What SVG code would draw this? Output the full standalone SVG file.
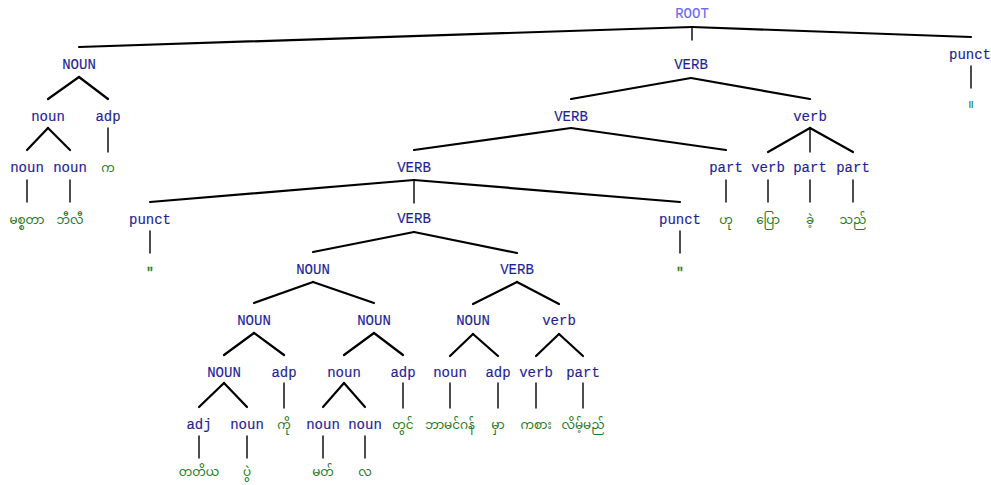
<svg xmlns="http://www.w3.org/2000/svg" width="991" height="485" viewBox="0 0 991 485">
<style>
.lb{font-family:"Liberation Mono","DejaVu Sans Mono",monospace;font-size:14px;fill:#1f1f96;stroke:#1f1f96;stroke-width:0.15;text-anchor:middle}
.rt{fill:#6a6aee;stroke:#6a6aee}
.w{font-family:"Noto Sans Myanmar","Padauk","Myanmar Text","Noto Sans",sans-serif;font-size:12px;fill:#237a23;text-anchor:middle}
.q{font-family:"Liberation Mono",monospace;font-size:13px;fill:#237a23;stroke:#237a23;stroke-width:0.4;text-anchor:middle}
.c line{stroke:#000;stroke-width:2.2;stroke-linecap:round}
.c line.v{stroke-width:1.4}
</style>
<rect width="991" height="485" fill="#fff"/>
<g class="c" id="connectors">
<line x1="692" y1="27" x2="79" y2="47"/>
<line class="v" x1="692" y1="27" x2="692" y2="40"/>
<line x1="692" y1="27" x2="971" y2="37"/>
<line class="v" x1="971" y1="66" x2="971" y2="88"/>
<line x1="79" y1="77" x2="48" y2="99"/>
<line x1="79" y1="77" x2="108" y2="99"/>
<line x1="691" y1="78" x2="571" y2="99"/>
<line x1="691" y1="78" x2="810" y2="99"/>
<line x1="48" y1="128" x2="27" y2="150"/>
<line x1="48" y1="128" x2="70" y2="150"/>
<line class="v" x1="108" y1="128" x2="108" y2="152"/>
<line x1="571" y1="128" x2="414" y2="150"/>
<line x1="571" y1="128" x2="726" y2="150"/>
<line x1="810" y1="128" x2="768" y2="152"/>
<line class="v" x1="810" y1="128" x2="810" y2="152"/>
<line x1="810" y1="128" x2="853" y2="152"/>
<line class="v" x1="27" y1="180" x2="27" y2="202"/>
<line class="v" x1="70" y1="180" x2="70" y2="202"/>
<line x1="414" y1="180" x2="150" y2="202"/>
<line class="v" x1="414" y1="180" x2="414" y2="203"/>
<line x1="414" y1="180" x2="680" y2="202"/>
<line class="v" x1="726" y1="180" x2="726" y2="202"/>
<line class="v" x1="768" y1="180" x2="768" y2="202"/>
<line class="v" x1="810" y1="180" x2="810" y2="202"/>
<line class="v" x1="853" y1="180" x2="853" y2="202"/>
<line class="v" x1="150" y1="231" x2="150" y2="253"/>
<line class="v" x1="680" y1="231" x2="680" y2="253"/>
<line x1="414" y1="232" x2="313" y2="252"/>
<line x1="414" y1="232" x2="517" y2="253"/>
<line x1="313" y1="282" x2="254" y2="303"/>
<line x1="313" y1="282" x2="374" y2="303"/>
<line x1="517" y1="282" x2="473" y2="304"/>
<line x1="517" y1="282" x2="559" y2="304"/>
<line x1="254" y1="333" x2="224" y2="355"/>
<line x1="254" y1="333" x2="284" y2="355"/>
<line x1="374" y1="333" x2="344" y2="355"/>
<line x1="374" y1="333" x2="403" y2="355"/>
<line x1="473" y1="334" x2="450" y2="356"/>
<line x1="473" y1="334" x2="498" y2="356"/>
<line x1="559" y1="334" x2="536" y2="356"/>
<line x1="559" y1="334" x2="583" y2="356"/>
<line x1="224" y1="383" x2="199" y2="407"/>
<line x1="224" y1="383" x2="247" y2="407"/>
<line class="v" x1="284" y1="383" x2="284" y2="408"/>
<line x1="344" y1="383" x2="323" y2="407"/>
<line x1="344" y1="383" x2="365" y2="407"/>
<line class="v" x1="403" y1="383" x2="403" y2="408"/>
<line class="v" x1="450" y1="383" x2="450" y2="408"/>
<line class="v" x1="498" y1="383" x2="498" y2="408"/>
<line class="v" x1="536" y1="383" x2="536" y2="408"/>
<line class="v" x1="583" y1="383" x2="583" y2="408"/>
<line class="v" x1="199" y1="436" x2="199" y2="458"/>
<line class="v" x1="247" y1="436" x2="247" y2="458"/>
<line class="v" x1="323" y1="436" x2="323" y2="458"/>
<line class="v" x1="365" y1="436" x2="365" y2="458"/>
</g>
<g id="root"><text class="lb rt" x="692" y="18">ROOT</text></g>
<g id="n-noun1"><text class="lb" x="79" y="69">NOUN</text></g>
<g id="n-verb1"><text class="lb" x="691" y="69">VERB</text></g>
<g id="n-punct1"><text class="lb" x="970" y="59">punct</text></g>
<g id="w-end"><text class="w" x="971" y="108">။</text></g>
<g id="n-noun2"><text class="lb" x="48" y="121">noun</text></g>
<g id="n-adp2"><text class="lb" x="108" y="121">adp</text></g>
<g id="n-verb2"><text class="lb" x="571" y="121">VERB</text></g>
<g id="n-verb2b"><text class="lb" x="810" y="121">verb</text></g>
<g id="n-noun3a"><text class="lb" x="27" y="172">noun</text></g>
<g id="n-noun3b"><text class="lb" x="70" y="172">noun</text></g>
<g id="w-ka"><text class="w" x="108" y="172">က</text></g>
<g id="n-verb3"><text class="lb" x="414" y="172">VERB</text></g>
<g id="n-part3"><text class="lb" x="726" y="172">part</text></g>
<g id="n-verb3b"><text class="lb" x="768" y="172">verb</text></g>
<g id="n-part3b"><text class="lb" x="810" y="172">part</text></g>
<g id="n-part3c"><text class="lb" x="853" y="172">part</text></g>
<g id="w-mister"><text class="w" x="27" y="224">မစ္စတာ</text></g>
<g id="w-billy"><text class="w" x="70" y="224">ဘီလီ</text></g>
<g id="n-punct4a"><text class="lb" x="150" y="224">punct</text></g>
<g id="n-verb4"><text class="lb" x="414" y="223">VERB</text></g>
<g id="n-punct4b"><text class="lb" x="680" y="224">punct</text></g>
<g id="w-hu"><text class="w" x="726" y="224">ဟု</text></g>
<g id="w-pyaw"><text class="w" x="768" y="224">ပြော</text></g>
<g id="w-khe"><text class="w" x="810" y="224">ခဲ့</text></g>
<g id="w-thi"><text class="w" x="853" y="224">သည်</text></g>
<g id="w-q1"><text class="q" x="150" y="276">"</text></g>
<g id="w-q2"><text class="q" x="680" y="276">"</text></g>
<g id="n-noun5"><text class="lb" x="313" y="274">NOUN</text></g>
<g id="n-verb5"><text class="lb" x="517" y="274">VERB</text></g>
<g id="n-noun6a"><text class="lb" x="254" y="325">NOUN</text></g>
<g id="n-noun6b"><text class="lb" x="374" y="325">NOUN</text></g>
<g id="n-noun6c"><text class="lb" x="473" y="325">NOUN</text></g>
<g id="n-verb6"><text class="lb" x="559" y="325">verb</text></g>
<g id="n-noun7a"><text class="lb" x="224" y="377">NOUN</text></g>
<g id="n-adp7a"><text class="lb" x="284" y="377">adp</text></g>
<g id="n-noun7b"><text class="lb" x="344" y="377">noun</text></g>
<g id="n-adp7b"><text class="lb" x="403" y="377">adp</text></g>
<g id="n-noun7c"><text class="lb" x="450" y="377">noun</text></g>
<g id="n-adp7c"><text class="lb" x="498" y="377">adp</text></g>
<g id="n-verb7"><text class="lb" x="536" y="377">verb</text></g>
<g id="n-part7"><text class="lb" x="583" y="377">part</text></g>
<g id="n-adj8"><text class="lb" x="199" y="429">adj</text></g>
<g id="n-noun8a"><text class="lb" x="247" y="429">noun</text></g>
<g id="w-ko"><text class="w" x="284" y="429">ကို</text></g>
<g id="n-noun8b"><text class="lb" x="323" y="429">noun</text></g>
<g id="n-noun8c"><text class="lb" x="365" y="429">noun</text></g>
<g id="w-twin"><text class="w" x="403" y="429">တွင်</text></g>
<g id="w-birm"><text class="w" x="450" y="429">ဘာမင်ဂန်</text></g>
<g id="w-hma"><text class="w" x="498" y="429">မှာ</text></g>
<g id="w-kasa"><text class="w" x="536" y="429">ကစား</text></g>
<g id="w-lein"><text class="w" x="583" y="429">လိမ့်မည်</text></g>
<g id="w-tatiya"><text class="w" x="199" y="476">တတိယ</text></g>
<g id="w-pwe"><text class="w" x="247" y="476">ပွဲ</text></g>
<g id="w-mat"><text class="w" x="323" y="476">မတ်</text></g>
<g id="w-la"><text class="w" x="365" y="476">လ</text></g>
</svg>
